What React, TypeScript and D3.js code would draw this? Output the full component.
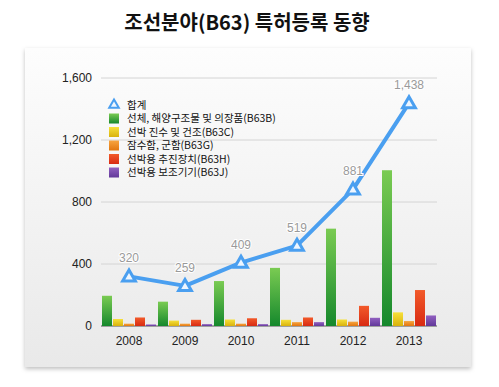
import * as d3 from 'd3';

// 연도별 특허등록 건수
const years = ['2008', '2009', '2010', '2011', '2012', '2013'];
const seriesNames = [
  '선체, 해양구조물 및 의장품(B63B)',
  '선박 진수 및 건조(B63C)',
  '잠수함, 군함(B63G)',
  '선박용 추진장치(B63H)',
  '선박용 보조기기(B63J)',
];
const hullValues = [195, 157, 290, 375, 628, 1005];
const launchValues = [45, 35, 42, 40, 42, 88];
const navalValues = [15, 15, 15, 25, 28, 32];
const propulsionValues = [55, 40, 50, 55, 130, 232];
const auxValues = [10, 12, 12, 25, 53, 68];
const totalValues = [320, 259, 409, 519, 881, 1438];
const yTicks = [0, 400, 800, 1200, 1600];

const seriesValues = [hullValues, launchValues, navalValues, propulsionValues, auxValues];
const barColors = [
  ['#7acb52', '#15882c'],
  ['#f6e03a', '#d9b20c'],
  ['#f7a540', '#e2760f'],
  ['#f25a2a', '#d82a12'],
  ['#9160c0', '#62399a'],
];
const lineColor = '#4a9ff0';
const font = '"Liberation Sans", Arial, sans-serif';
const krFont = '"Noto Sans CJK KR", "Liberation Sans", sans-serif';

export default function App() {
  const width = 499;
  const height = 387;
  const plot = { left: 101, right: 437, top: 78, bottom: 326 };

  const x = d3.scaleBand().domain(years).range([plot.left, plot.right]).padding(0);
  const y = d3.scaleLinear().domain([0, 1600]).range([plot.bottom, plot.top]);

  const barW = 10;
  const barStep = 11;
  const groupW = barStep * seriesValues.length - 1;

  const line = d3.line<number>()
    .x((_, i) => x(years[i])! + x.bandwidth() / 2)
    .y(d => y(d));

  const tri = d3.symbol().type(d3.symbolTriangle).size(70)();

  return (
    <svg width={width} height={height} style={{ position: 'absolute', left: 0, top: 0 }}>
      <defs>
        <linearGradient id="panel" x1="0" y1="0" x2="0" y2="1">
          <stop offset="0" stopColor="#fdfdfd" />
          <stop offset="1" stopColor="#e9e9e9" />
        </linearGradient>
        <filter id="shadow" x="-10%" y="-10%" width="120%" height="130%">
          <feDropShadow dx="0" dy="2" stdDeviation="2" floodColor="#000" floodOpacity="0.25" />
        </filter>
        {barColors.map((c, i) => (
          <linearGradient key={i} id={`bar${i}`} x1="0" y1="0" x2="0" y2="1">
            <stop offset="0" stopColor={c[0]} />
            <stop offset="1" stopColor={c[1]} />
          </linearGradient>
        ))}
      </defs>
      <rect x={0} y={0} width={width} height={height} fill="#fff" />

      <text x={247} y={30} textAnchor="middle" fontFamily={krFont} fontWeight="bold" fontSize={20} fill="#111">
        조선분야(B63) 특허등록 동향
      </text>

      {/* 배경 패널 */}
      <rect x={25} y={48} width={446} height={319} fill="url(#panel)" filter="url(#shadow)" />

      {/* 격자선과 y축 */}
      {yTicks.map(t => (
        <g key={t}>
          <line x1={plot.left} x2={plot.right} y1={y(t)} y2={y(t)} stroke={t === 0 ? '#555' : '#d4d4d4'} strokeWidth={1} />
          <text x={92} y={y(t) + 4} textAnchor="end" fontFamily={font} fontSize={12} fill="#222">
            {d3.format(',')(t)}
          </text>
        </g>
      ))}

      {/* 막대 */}
      {seriesValues.map((vals, s) =>
        vals.map((v, i) => {
          const gx = x(years[i])! + (x.bandwidth() - groupW) / 2 + s * barStep;
          return (
            <rect key={`${s}-${i}`} x={gx} y={y(v)} width={barW} height={y(0) - y(v)} fill={`url(#bar${s})`} />
          );
        })
      )}

      {/* x축 라벨 */}
      {years.map(yr => (
        <text key={yr} x={x(yr)! + x.bandwidth() / 2} y={345} textAnchor="middle" fontFamily={font} fontSize={12} fill="#222">
          {yr}
        </text>
      ))}

      {/* 합계 선 */}
      <path d={line(totalValues)!} fill="none" stroke={lineColor} strokeWidth={4} strokeLinejoin="round" />
      {totalValues.map((v, i) => {
        const cx = x(years[i])! + x.bandwidth() / 2;
        return (
          <g key={i}>
            <path d={tri!} transform={`translate(${cx},${y(v) + 1})`} fill="#eef6ff" stroke={lineColor} strokeWidth={3} strokeLinejoin="miter" />
            <text x={cx} y={y(v) - 14} textAnchor="middle" fontFamily={font} fontSize={12}
              fill="#9a9a9a" stroke="#ffffff" strokeWidth={2} paintOrder="stroke">
              {d3.format(',')(v)}
            </text>
          </g>
        );
      })}

      {/* 범례 */}
      <g>
        <path d={d3.symbol().type(d3.symbolTriangle).size(40)()!} transform="translate(114,105)" fill="#eef6ff" stroke={lineColor} strokeWidth={2} />
        <text x={127} y={108.5} fontFamily={krFont} fontSize={10.5} fill="#111">합계</text>
        {seriesNames.map((name, i) => {
          const ry = 118.5 + i * 13.5;
          return (
            <g key={name}>
              <rect x={109} y={ry - 5} width={10} height={10} fill={`url(#bar${i})`} />
              <text x={127} y={ry + 3.5} fontFamily={krFont} fontSize={10.5} fill="#111">{name}</text>
            </g>
          );
        })}
      </g>
    </svg>
  );
}
